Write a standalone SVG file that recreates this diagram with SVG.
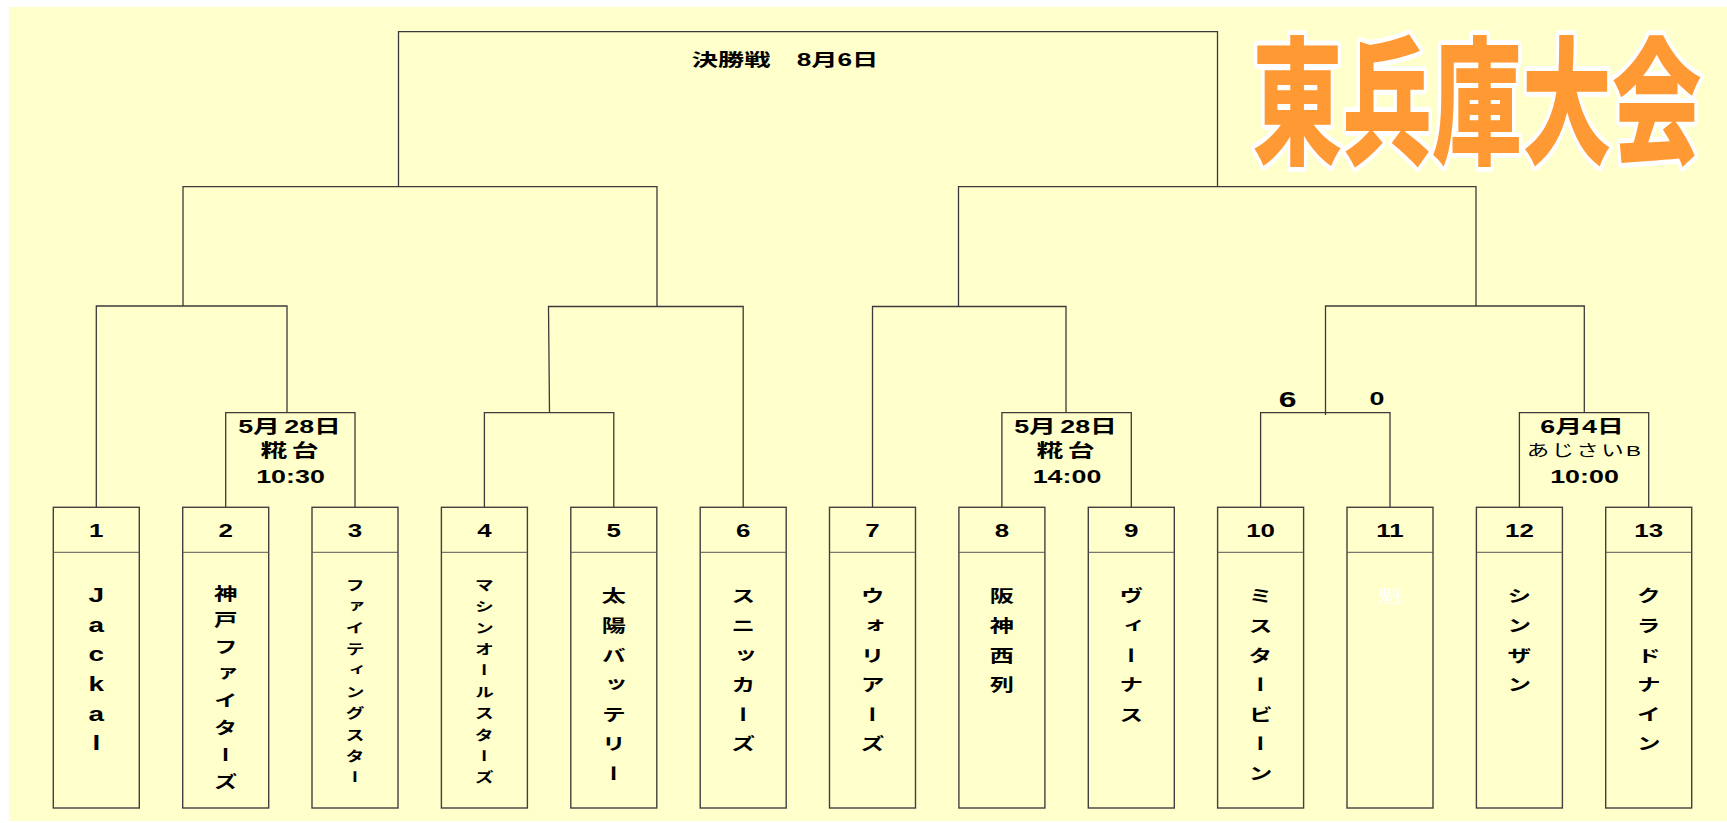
<svg xmlns="http://www.w3.org/2000/svg" width="1727" height="823" viewBox="0 0 1727 823">
<style>
.bg{fill:#FFFFCC}
.ln{fill:none;stroke:#3a3a3a;stroke-width:1.3}
.box{fill:none;stroke:#404040;stroke-width:1.4}
.dv{stroke:#555555;stroke-width:1}
.num{font-family:"Liberation Sans","Noto Sans CJK JP",sans-serif;font-weight:bold;font-size:18.5px;text-anchor:middle;fill:#000}
.lbl{font-family:"Liberation Sans","Noto Sans CJK JP",sans-serif;font-weight:bold;font-size:18.5px;text-anchor:middle;fill:#000}
.lbr{font-family:"Liberation Sans","Noto Sans CJK JP",sans-serif;font-weight:normal;font-size:15.5px;letter-spacing:1.6px;text-anchor:middle;fill:#000}
.col{font-family:"Noto Sans CJK JP",sans-serif;font-weight:bold;font-size:17px;writing-mode:vertical-rl;fill:#000;letter-spacing:12.6px}
.sm{font-size:13.5px;letter-spacing:7.9px}
.md{font-size:16.5px;letter-spacing:10.4px}
.lat{font-family:"Liberation Sans",sans-serif;font-weight:bold;font-size:20px;text-anchor:middle;fill:#000}
.ttl{font-family:"Noto Sans CJK JP",sans-serif;font-weight:900;font-size:138px;text-anchor:middle;fill:#FF9933;stroke:#FFFFFF;stroke-width:10px;stroke-linejoin:round;paint-order:stroke}
.fin{font-family:"Liberation Sans","Noto Sans CJK JP",sans-serif;font-weight:bold;font-size:17.5px;text-anchor:middle;fill:#000}
</style>
<rect class="bg" x="9" y="7" width="1718" height="814"/>

<g id="title">
<text class="ttl" x="1477" y="153" textLength="449" lengthAdjust="spacingAndGlyphs">東兵庫大会</text>
</g>

<g id="final-label">
<text class="fin" transform="translate(785,65.5) scale(1.5,1)">決勝戦　8月6日</text>
</g>

<g id="connectors">
<path class="ln" d="M398.5,187 V31.7 H1217.5 V187"/>
<path class="ln" d="M183,306 V186.7 H657 V306"/>
<path class="ln" d="M958.5,306 V186.7 H1476 V306"/>
<path class="ln" d="M96.3,507.3 V306 H287 V412.7"/>
<path class="ln" d="M225.7,507.3 V412.7 H355 V507.3"/>
<path class="ln" d="M549.5,412.7 L548.5,306.5 H743.2 V507.3"/>
<path class="ln" d="M484.4,507.3 V412.7 H613.8 V507.3"/>
<path class="ln" d="M872.5,507.3 V306.5 H1066 V412.7"/>
<path class="ln" d="M1001.9,507.3 V412.7 H1131.3 V507.3"/>
<path class="ln" d="M1325.5,415 V306 H1584.3 V412.7"/>
<path class="ln" d="M1260.6,507.3 V412.7 H1390 V507.3"/>
<path class="ln" d="M1519.4,507.3 V412.7 H1648.7 V507.3"/>
</g>

<g id="match-2-3">
<text class="lbl" transform="translate(289.5,433) scale(1.45,1)">5月<tspan dx="3">28</tspan>日</text>
<text class="lbl" word-spacing="-2" transform="translate(289.5,457.3) scale(1.45,1)">糀 台</text>
<text class="lbl" transform="translate(290.5,482.7) scale(1.45,1)">10:30</text>
</g>
<g id="match-8-9">
<text class="lbl" transform="translate(1065.5,433) scale(1.45,1)">5月<tspan dx="3">28</tspan>日</text>
<text class="lbl" word-spacing="-2" transform="translate(1065.5,457.3) scale(1.45,1)">糀 台</text>
<text class="lbl" transform="translate(1067,482.7) scale(1.45,1)">14:00</text>
</g>
<g id="match-12-13">
<text class="lbl" transform="translate(1582,433) scale(1.45,1)">6月4日</text>
<text class="lbr" transform="translate(1585,456) scale(1.45,1)">あじさいB</text>
<text class="lbl" transform="translate(1584.5,482.7) scale(1.45,1)">10:00</text>
</g>
<g id="score-10-11">
<text class="lbl" style="font-size:22px" transform="translate(1287.7,407) scale(1.45,1)">6</text>
<text class="lbl" transform="translate(1377,404.5) scale(1.45,1)">0</text>
</g>

<g id="team1">
<rect class="box" x="53.3" y="507.3" width="86" height="300.7"/>
<line class="dv" x1="53.3" y1="552.3" x2="139.3" y2="552.3"/>
<text class="num" transform="translate(96.3,536.5) scale(1.4,1)">1</text>
<text class="lat" transform="translate(96.3,0) scale(1.4,1)"><tspan x="0" y="602">J</tspan><tspan x="0" y="631.7">a</tspan><tspan x="0" y="661.4">c</tspan><tspan x="0" y="691.1">k</tspan><tspan x="0" y="720.8">a</tspan><tspan x="0" y="750.5">l</tspan></text>
</g>
<g id="team2">
<rect class="box" x="182.7" y="507.3" width="86" height="300.7"/>
<line class="dv" x1="182.7" y1="552.3" x2="268.7" y2="552.3"/>
<text class="num" transform="translate(225.7,536.5) scale(1.4,1)">2</text>
<text class="col md" transform="translate(225.7,0) scale(1.42,1)" x="0" y="585">神戸ファイターズ</text>
</g>
<g id="team3">
<rect class="box" x="312" y="507.3" width="86" height="300.7"/>
<line class="dv" x1="312" y1="552.3" x2="398" y2="552.3"/>
<text class="num" transform="translate(355,536.5) scale(1.4,1)">3</text>
<text class="col sm" transform="translate(355,0) scale(1.42,1)" x="0" y="578">ファイティングスター</text>
</g>
<g id="team4">
<rect class="box" x="441.4" y="507.3" width="86" height="300.7"/>
<line class="dv" x1="441.4" y1="552.3" x2="527.4" y2="552.3"/>
<text class="num" transform="translate(484.4,536.5) scale(1.4,1)">4</text>
<text class="col sm" transform="translate(484.4,0) scale(1.42,1)" x="0" y="578">マシンオールスターズ</text>
</g>
<g id="team5">
<rect class="box" x="570.8" y="507.3" width="86" height="300.7"/>
<line class="dv" x1="570.8" y1="552.3" x2="656.8" y2="552.3"/>
<text class="num" transform="translate(613.8,536.5) scale(1.4,1)">5</text>
<text class="col" transform="translate(613.8,0) scale(1.42,1)" x="0" y="587.5">太陽バッテリー</text>
</g>
<g id="team6">
<rect class="box" x="700.2" y="507.3" width="86" height="300.7"/>
<line class="dv" x1="700.2" y1="552.3" x2="786.2" y2="552.3"/>
<text class="num" transform="translate(743.2,536.5) scale(1.4,1)">6</text>
<text class="col" transform="translate(743.2,0) scale(1.42,1)" x="0" y="587.5">スニッカーズ</text>
</g>
<g id="team7">
<rect class="box" x="829.5" y="507.3" width="86" height="300.7"/>
<line class="dv" x1="829.5" y1="552.3" x2="915.5" y2="552.3"/>
<text class="num" transform="translate(872.5,536.5) scale(1.4,1)">7</text>
<text class="col" transform="translate(872.5,0) scale(1.42,1)" x="0" y="587.5">ウォリアーズ</text>
</g>
<g id="team8">
<rect class="box" x="958.9" y="507.3" width="86" height="300.7"/>
<line class="dv" x1="958.9" y1="552.3" x2="1044.9" y2="552.3"/>
<text class="num" transform="translate(1001.9,536.5) scale(1.4,1)">8</text>
<text class="col" transform="translate(1001.9,0) scale(1.42,1)" x="0" y="587.5">阪神西列</text>
</g>
<g id="team9">
<rect class="box" x="1088.3" y="507.3" width="86" height="300.7"/>
<line class="dv" x1="1088.3" y1="552.3" x2="1174.3" y2="552.3"/>
<text class="num" transform="translate(1131.3,536.5) scale(1.4,1)">9</text>
<text class="col" transform="translate(1131.3,0) scale(1.42,1)" x="0" y="587.5">ヴィーナス</text>
</g>
<g id="team10">
<rect class="box" x="1217.6" y="507.3" width="86" height="300.7"/>
<line class="dv" x1="1217.6" y1="552.3" x2="1303.6" y2="552.3"/>
<text class="num" transform="translate(1260.6,536.5) scale(1.4,1)">10</text>
<text class="col" transform="translate(1260.6,0) scale(1.42,1)" x="0" y="587.5">ミスタービーン</text>
</g>
<g id="team11">
<rect class="box" x="1347" y="507.3" width="86" height="300.7"/>
<line class="dv" x1="1347" y1="552.3" x2="1433" y2="552.3"/>
<text class="num" transform="translate(1390,536.5) scale(1.4,1)">11</text>
<text class="col" style="fill:#FFFFFF;font-weight:normal" transform="translate(1390,0) scale(1.42,1)" x="0" y="587.5">魁</text>
</g>
<g id="team12">
<rect class="box" x="1476.4" y="507.3" width="86" height="300.7"/>
<line class="dv" x1="1476.4" y1="552.3" x2="1562.4" y2="552.3"/>
<text class="num" transform="translate(1519.4,536.5) scale(1.4,1)">12</text>
<text class="col" transform="translate(1519.4,0) scale(1.42,1)" x="0" y="587.5">シンザン</text>
</g>
<g id="team13">
<rect class="box" x="1605.7" y="507.3" width="86" height="300.7"/>
<line class="dv" x1="1605.7" y1="552.3" x2="1691.7" y2="552.3"/>
<text class="num" transform="translate(1648.7,536.5) scale(1.4,1)">13</text>
<text class="col" transform="translate(1648.7,0) scale(1.42,1)" x="0" y="587.5">クラドナイン</text>
</g>
</svg>
